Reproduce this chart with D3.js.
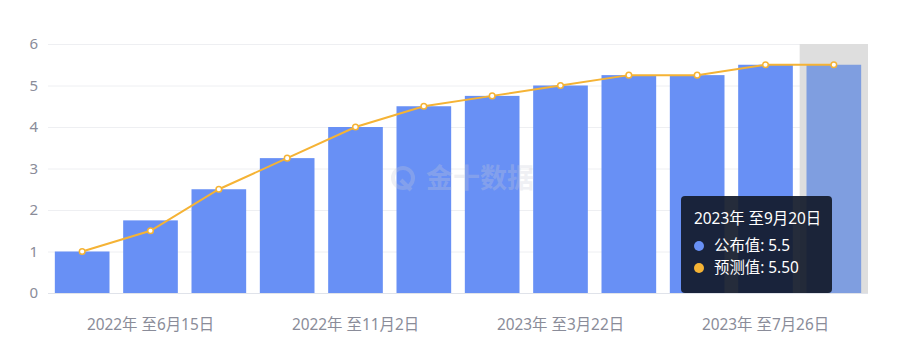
<!DOCTYPE html>
<html>
<head>
<meta charset="utf-8">
<script src="https://cdn.jsdelivr.net/npm/d3@7"></script>
<style>
  body { margin: 0; background: #fff; }
  svg { display: block; font-family: "Noto Sans", "Noto Sans CJK SC", sans-serif; }
</style>
</head>
<body>
<svg id="chart" width="900" height="352"></svg>
<script>
'use strict';

// FOMC decision dates (upper bound of the target range)
var aCategories = ['2022年 至5月4日', '2022年 至6月15日', '2022年 至7月27日', '2022年 至9月21日',
	'2022年 至11月2日', '2022年 至12月14日', '2023年 至2月1日', '2023年 至3月22日',
	'2023年 至5月3日', '2023年 至6月14日', '2023年 至7月26日', '2023年 至9月20日'];
var aActual = [1, 1.75, 2.5, 3.25, 4, 4.5, 4.75, 5, 5.25, 5.25, 5.5, 5.5];
var aForecast = [1, 1.5, 2.5, 3.25, 4, 4.5, 4.75, 5, 5.25, 5.25, 5.5, 5.5];
var aYTicks = [0, 1, 2, 3, 4, 5, 6];
var nHover = 11;

var svg = d3.select('#chart');
var margin = {left: 48, right: 32, top: 44, bottom: 59};
var width = 900, height = 352;

var x = d3.scaleBand()
	.domain(aCategories)
	.range([margin.left, width - margin.right])
	.paddingInner(0.2)
	.paddingOuter(0.1);

var xBand = d3.scaleBand()
	.domain(aCategories)
	.range([margin.left, width - margin.right]);

var y = d3.scaleLinear()
	.domain([0, 6])
	.range([height - margin.bottom, margin.top]);

// grid
svg.append('g')
	.selectAll('line')
	.data(aYTicks)
	.join('line')
	.attr('x1', margin.left)
	.attr('x2', width - margin.right)
	.attr('y1', d => y(d) + 0.5)
	.attr('y2', d => y(d) + 0.5)
	.attr('stroke', d => d == 0 ? '#e0e3ea' : '#eeeff2');

// y labels
svg.append('g')
	.selectAll('text')
	.data(aYTicks)
	.join('text')
	.attr('x', 38)
	.attr('y', d => y(d))
	.attr('dy', '0.35em')
	.attr('text-anchor', 'end')
	.attr('fill', '#8a8c99')
	.style('font-size', '15px')
	.text(d => d);

// hover shadow
svg.append('rect')
	.attr('x', xBand(aCategories[nHover]))
	.attr('y', margin.top)
	.attr('width', xBand.bandwidth())
	.attr('height', y(0) - margin.top)
	.attr('fill', '#dedede');

// bars
svg.append('g')
	.selectAll('rect')
	.data(aActual)
	.join('rect')
	.attr('x', (d, i) => x(aCategories[i]))
	.attr('y', d => y(d))
	.attr('width', x.bandwidth())
	.attr('height', d => y(0) - y(d))
	.attr('fill', (d, i) => i == nHover ? '#7f9ee0' : '#6890f5');

// watermark
var wm = svg.append('g')
	.attr('transform', 'translate(460,178)')
	.attr('opacity', 0.28);
wm.append('circle').attr('cx', -57).attr('cy', 0).attr('r', 10)
	.attr('fill', 'none').attr('stroke', '#c8ccd8').attr('stroke-width', 4);
wm.append('line').attr('x1', -59).attr('y1', 2).attr('x2', -49).attr('y2', 12)
	.attr('stroke', '#c8ccd8').attr('stroke-width', 4);
wm.append('text')
	.attr('x', -34).attr('y', 0).attr('dy', '0.36em')
	.attr('fill', '#c8ccd8')
	.style('font-size', '27px')
	.style('font-weight', 'bold')
	.text('金十数据');

// forecast line
var line = d3.line()
	.x((d, i) => xBand(aCategories[i]) + xBand.bandwidth() / 2)
	.y(d => y(d));

svg.append('path')
	.datum(aForecast)
	.attr('d', line)
	.attr('fill', 'none')
	.attr('stroke', '#f5b335')
	.attr('stroke-width', 2);

svg.append('g')
	.selectAll('circle')
	.data(aForecast)
	.join('circle')
	.attr('cx', (d, i) => xBand(aCategories[i]) + xBand.bandwidth() / 2)
	.attr('cy', d => y(d))
	.attr('r', 2.8)
	.attr('fill', '#fff')
	.attr('stroke', '#f5b335')
	.attr('stroke-width', 1.5);

// x labels (every third)
svg.append('g')
	.selectAll('text')
	.data(aCategories.filter((d, i) => i % 3 == 1))
	.join('text')
	.attr('x', d => xBand(d) + xBand.bandwidth() / 2)
	.attr('y', 325)
	.attr('dy', '0.35em')
	.attr('text-anchor', 'middle')
	.attr('fill', '#8a8c99')
	.style('font-size', '15.4px')
	.text(d => d);

// tooltip
var tip = svg.append('g').attr('transform', 'translate(681,196)');
tip.append('rect')
	.attr('width', 151).attr('height', 97).attr('rx', 4)
	.attr('fill', 'rgba(18,26,42,0.92)');
tip.append('text')
	.attr('x', 13).attr('y', 23).attr('dy', '0.35em')
	.attr('fill', '#fff').style('font-size', '15.4px')
	.text(aCategories[nHover]);
var aTipRows = [
	{name: '公布值', value: String(aActual[nHover]), color: '#6890f5'},
	{name: '预测值', value: aForecast[nHover].toFixed(2), color: '#f5b335'}
];
var row = tip.selectAll('g.row')
	.data(aTipRows)
	.join('g')
	.attr('transform', (d, i) => `translate(0,${50 + i * 22})`);
row.append('circle').attr('cx', 18).attr('cy', 0).attr('r', 5).attr('fill', d => d.color);
row.append('text')
	.attr('x', 33).attr('dy', '0.35em')
	.attr('fill', '#fff').style('font-size', '15.4px')
	.text(d => d.name + ': ' + d.value);
</script>
</body>
</html>
